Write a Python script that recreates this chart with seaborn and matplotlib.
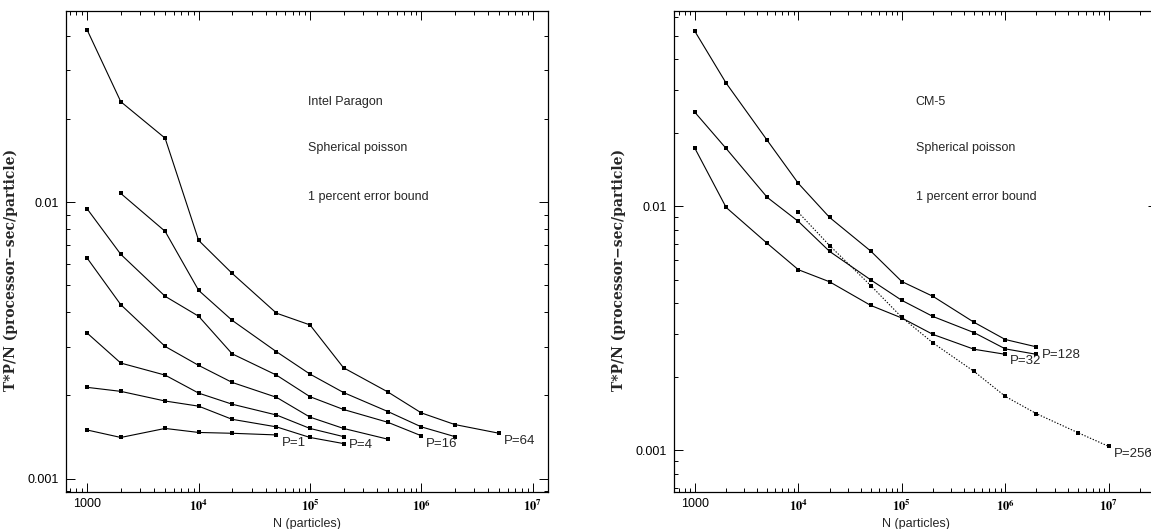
import matplotlib
matplotlib.use('Agg')
import matplotlib.pyplot as plt
import seaborn as sns
import pandas as pd
from matplotlib.ticker import FixedLocator, FixedFormatter, LogLocator, NullFormatter

# particle counts used on the x axis
n_steps = [1000, 2000, 5000, 10000, 20000, 50000, 100000, 200000,
           500000, 1000000, 2000000, 5000000, 10000000]

# Intel Paragon, T*P/N in processor-sec/particle
paragon_p1 = [0.00150, 0.00141, 0.00152, 0.00147, 0.00146, 0.00144]
paragon_p2 = [0.00214, 0.00207, 0.00191, 0.00183, 0.00164, 0.00154, 0.00141, 0.00134]
paragon_p4 = [0.00336, 0.00262, 0.00237, 0.00204, 0.00186, 0.00170, 0.00152, 0.00142]
paragon_p8 = [0.00627, 0.00426, 0.00301, 0.00257, 0.00223, 0.00197, 0.00167, 0.00152, 0.00139]
paragon_p16 = [0.00945, 0.00648, 0.00457, 0.00387, 0.00283, 0.00237, 0.00198, 0.00178,
               0.00160, 0.00143]
paragon_p32 = [0.01076, 0.00785, 0.00480, 0.00374, 0.00288, 0.00239, 0.00205, 0.00175,
               0.00154, 0.00142]  # starts at N=2000
paragon_p64 = [0.0419, 0.0231, 0.01705, 0.00728, 0.00553, 0.00397, 0.00360, 0.00252,
               0.00206, 0.00173, 0.00157, 0.00146]

# CM-5
cm5_p32 = [0.01726, 0.00989, 0.00704, 0.00549, 0.00490, 0.00392, 0.00348, 0.00298,
           0.00259, 0.00247]
cm5_p64 = [0.02426, 0.01726, 0.01087, 0.00866, 0.00653, 0.00499, 0.00411, 0.00353,
           0.00303, 0.00260, 0.00247]
cm5_p128 = [0.0521, 0.0320, 0.01862, 0.0124, 0.0090, 0.00655, 0.00491, 0.00427,
            0.00334, 0.00284, 0.00265]
cm5_p256 = [0.00943, 0.0069, 0.00473, 0.0035, 0.00275, 0.0021, 0.00166, 0.00141,
            0.00118, 0.001035]  # starts at N=1e4

decade_ticks = [1e3, 1e4, 1e5, 1e6, 1e7]
decade_labels = ['1000', r'$\mathbf{10^4}$', r'$\mathbf{10^5}$', r'$\mathbf{10^6}$', r'$\mathbf{10^7}$']
y_ticks = [0.001, 0.01]
y_labels = ['0.001', '0.01']

sns.set_style('ticks')
plt.rcParams['font.family'] = ['Liberation Sans', 'DejaVu Sans']
plt.rcParams['mathtext.fontset'] = 'stix'
plt.rcParams['font.size'] = 9

W, H = 1151, 529
fig = plt.figure(figsize=(W / 100, H / 100), dpi=100)
ax1 = fig.add_axes([66 / W, (H - 491.5) / H, 481.7 / W, 480.8 / H])
# right panel runs slightly past the canvas edge, as in the original
ax2 = fig.add_axes([674.3 / W, (H - 491.5) / H, 482.7 / W, 480.8 / H])


def draw(ax, xs, ys, style='-', label=None, dy=-8):
    sns.lineplot(x=xs, y=ys, ax=ax, color='black', linestyle=style, linewidth=0.8,
                 marker='s', markersize=3.2, markeredgewidth=0, estimator=None,
                 sort=False, legend=False)
    if label:
        ax.annotate(label, xy=(xs[-1], ys[-1]), xytext=(5, dy), textcoords='offset pixels',
                    ha='left', va='center', fontsize=9.5)


draw(ax1, n_steps[:6], paragon_p1, label='P=1')
draw(ax1, n_steps[:8], paragon_p2)
draw(ax1, n_steps[:8], paragon_p4, label='P=4')
draw(ax1, n_steps[:9], paragon_p8)
draw(ax1, n_steps[:10], paragon_p16, label='P=16')
draw(ax1, n_steps[1:11], paragon_p32)
draw(ax1, n_steps[:12], paragon_p64, label='P=64')

draw(ax2, n_steps[:10], cm5_p32, label='P=32', dy=-7)
draw(ax2, n_steps[:11], cm5_p64)
draw(ax2, n_steps[:11], cm5_p128, label='P=128', dy=-8)
draw(ax2, n_steps[3:13], cm5_p256, style=(0, (1.2, 1.5)), label='P=256')

for ax, xlim, ylim in [(ax1, (644, 1.364e7), (0.000899, 0.0493)),
                       (ax2, (631, 2.93e7), (0.000676, 0.0634))]:
    ax.set_xscale('log')
    ax.set_yscale('log')
    ax.set_xlim(*xlim)
    ax.set_ylim(*ylim)
    ax.xaxis.set_major_locator(FixedLocator(decade_ticks))
    ax.xaxis.set_major_formatter(FixedFormatter(decade_labels))
    ax.xaxis.set_minor_locator(LogLocator(base=10, subs=range(2, 10), numticks=20))
    ax.xaxis.set_minor_formatter(NullFormatter())
    ax.yaxis.set_major_locator(FixedLocator(y_ticks))
    ax.yaxis.set_major_formatter(FixedFormatter(y_labels))
    ax.yaxis.set_minor_locator(LogLocator(base=10, subs=range(2, 10), numticks=20))
    ax.yaxis.set_minor_formatter(NullFormatter())
    ax.tick_params(which='both', direction='in', top=True, right=True, width=0.7,
                   colors='black', labelsize=9)
    ax.tick_params(which='major', length=6.5, pad=5)
    ax.tick_params(which='minor', length=3.2)
    for sp in ax.spines.values():
        sp.set_linewidth(0.9)
        sp.set_color('black')
    ax.set_xlabel('N (particles)', fontsize=9, labelpad=3)
    ax.set_ylabel('T*P/N (processor\u2212sec/particle)', fontsize=10,
                  family=['DejaVu Serif'], fontweight='bold')
    ax.set_facecolor('white')

ax1.yaxis.set_label_coords(-0.1, 0.46)
ax2.yaxis.set_label_coords(-0.1, 0.46)

ax1.text(0.503, 0.81, 'Intel Paragon', transform=ax1.transAxes, va='center', fontsize=9)
ax1.text(0.503, 0.714, 'Spherical poisson', transform=ax1.transAxes, va='center', fontsize=9)
ax1.text(0.503, 0.612, '1 percent error bound', transform=ax1.transAxes, va='center', fontsize=9)
ax2.text(0.5, 0.81, 'CM-5', transform=ax2.transAxes, va='center', fontsize=9)
ax2.text(0.5, 0.714, 'Spherical poisson', transform=ax2.transAxes, va='center', fontsize=9)
ax2.text(0.5, 0.612, '1 percent error bound', transform=ax2.transAxes, va='center', fontsize=9)

fig.savefig('out.png', dpi=100, facecolor='white')
